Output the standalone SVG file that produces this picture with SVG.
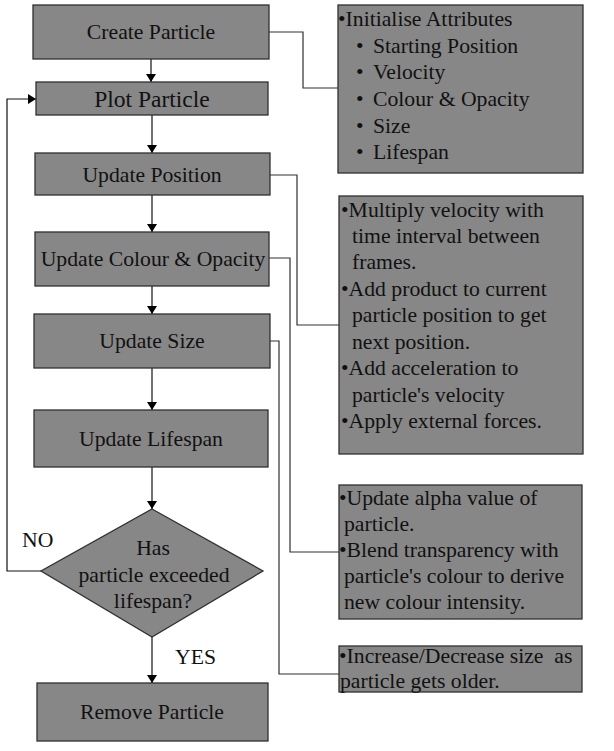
<svg xmlns="http://www.w3.org/2000/svg" width="614" height="751" viewBox="0 0 614 751">
<style>
.box{fill:#878787;stroke:#303030;stroke-width:1.3}
text{font-family:'Liberation Serif','Times New Roman',Times,'DejaVu Serif',serif;font-size:21.7px;fill:#111}
.c{text-anchor:middle}
.ln{fill:none;stroke:#303030;stroke-width:1.2}
.ar{fill:none;stroke:#111;stroke-width:1.2;marker-end:url(#ah)}
</style>
<defs>
<marker id="ah" markerWidth="8" markerHeight="10" refX="8" refY="5" orient="auto" markerUnits="userSpaceOnUse">
<path d="M0,0 L8,5 L0,10 z" fill="#000"/>
</marker>
</defs>
<rect width="614" height="751" fill="#fff"/>
<g id="connectors">
<path class="ar" d="M151,59 V82"/>
<path class="ar" d="M152,115 V153"/>
<path class="ar" d="M152,195 V232"/>
<path class="ar" d="M152,286 V314"/>
<path class="ar" d="M152,368 V410"/>
<path class="ar" d="M152,467 V509"/>
<path class="ar" d="M152,637 V683"/>
<path class="ar" d="M41,571 H7 V99 H36"/>
<path class="ln" d="M269,32 H303 V88 H338"/>
<path class="ln" d="M270,175 H297 V325 H340"/>
<path class="ln" d="M269,258 H290 V552 H339"/>
<path class="ln" d="M270,341 H279 V674 H339"/>
<text font-family="Liberation Serif, serif" x="22" y="547">NO</text>
<text font-family="Liberation Serif, serif" x="175" y="664">YES</text>
</g>
<g id="create">
<rect class="box" x="33" y="5" width="236" height="54"/>
<text font-family="Liberation Serif, serif" class="c" x="151" y="39">Create Particle</text>
</g>
<g id="plot">
<rect class="box" x="36" y="82" width="232" height="33"/>
<text font-family="Liberation Serif, serif" class="c" x="152" y="107" style="font-size:23.5px">Plot Particle</text>
</g>
<g id="position">
<rect class="box" x="35" y="153" width="235" height="42"/>
<text font-family="Liberation Serif, serif" class="c" x="152" y="182">Update Position</text>
</g>
<g id="colour">
<rect class="box" x="35" y="232" width="234" height="54"/>
<text font-family="Liberation Serif, serif" class="c" x="153" y="266">Update Colour &amp; Opacity</text>
</g>
<g id="size">
<rect class="box" x="34" y="314" width="236" height="54"/>
<text font-family="Liberation Serif, serif" class="c" x="152" y="348">Update Size</text>
</g>
<g id="lifespan">
<rect class="box" x="34" y="410" width="234" height="57"/>
<text font-family="Liberation Serif, serif" class="c" x="151" y="446">Update Lifespan</text>
</g>
<g id="decision">
<polygon class="box" points="152,509 263,571 152,637 41,571"/>
<text font-family="Liberation Serif, serif" class="c" x="153" y="555">Has</text>
<text font-family="Liberation Serif, serif" class="c" x="154" y="582">particle exceeded</text>
<text font-family="Liberation Serif, serif" class="c" x="153" y="608">lifespan?</text>
</g>
<g id="remove">
<rect class="box" x="37" y="683" width="231" height="58"/>
<text font-family="Liberation Serif, serif" class="c" x="152" y="719">Remove Particle</text>
</g>
<g id="note-init">
<rect class="box" x="338" y="5" width="245" height="168"/>
<text font-family="Liberation Serif, serif"><tspan x="338" y="26">•Initialise Attributes</tspan>
<tspan x="356" y="53">•</tspan><tspan x="373" y="53">Starting Position</tspan>
<tspan x="356" y="79">•</tspan><tspan x="373" y="79">Velocity</tspan>
<tspan x="356" y="106">•</tspan><tspan x="373" y="106">Colour &amp; Opacity</tspan>
<tspan x="356" y="133">•</tspan><tspan x="373" y="133">Size</tspan>
<tspan x="356" y="159">•</tspan><tspan x="373" y="159">Lifespan</tspan></text>
</g>
<g id="note-position">
<rect class="box" x="339" y="196" width="244" height="258"/>
<text font-family="Liberation Serif, serif"><tspan x="341" y="217">•Multiply velocity with</tspan>
<tspan x="352" y="243">time interval between</tspan>
<tspan x="352" y="269">frames.</tspan>
<tspan x="341" y="296">•Add product to current</tspan>
<tspan x="352" y="322">particle position to get</tspan>
<tspan x="352" y="349">next position.</tspan>
<tspan x="341" y="375">•Add acceleration to</tspan>
<tspan x="352" y="402">particle's velocity</tspan>
<tspan x="341" y="428">•Apply external forces.</tspan></text>
</g>
<g id="note-colour">
<rect class="box" x="339" y="485" width="243" height="134"/>
<text font-family="Liberation Serif, serif"><tspan x="339" y="505">•Update alpha value of</tspan>
<tspan x="344" y="531">particle.</tspan>
<tspan x="339" y="557">•Blend transparency with</tspan>
<tspan x="344" y="583">particle's colour to derive</tspan>
<tspan x="344" y="609">new colour intensity.</tspan></text>
</g>
<g id="note-size">
<rect class="box" x="339" y="646" width="243" height="46"/>
<text font-family="Liberation Serif, serif" xml:space="preserve"><tspan x="339" y="663">•Increase/Decrease size  as</tspan>
<tspan x="340" y="688">particle gets older.</tspan></text>
</g>
</svg>
